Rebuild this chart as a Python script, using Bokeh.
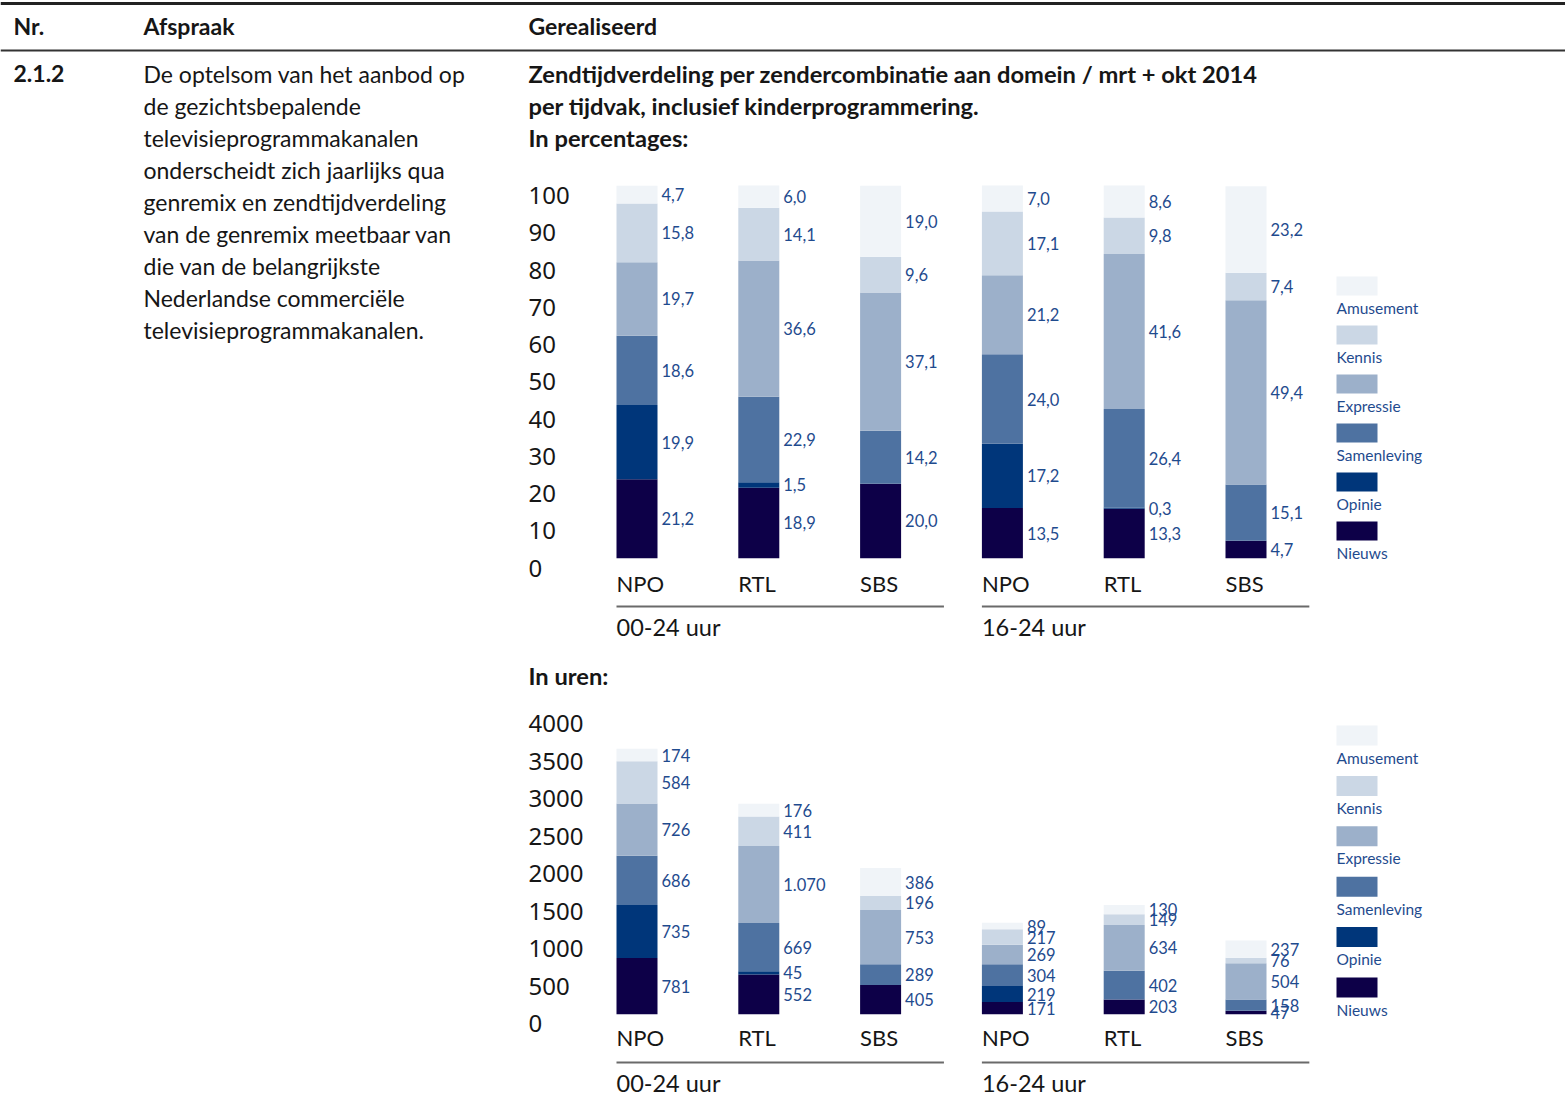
from bokeh.plotting import figure
from bokeh.models import Range1d, ColumnDataSource
from bokeh.core.properties import value
from bokeh.embed import file_html
from bokeh.resources import INLINE

# ---------------- data ----------------
periods = ["00-24 uur", "16-24 uur"]
channels = ["NPO", "RTL", "SBS"]
genres = ["Nieuws", "Opinie", "Samenleving", "Expressie", "Kennis", "Amusement"]  # bottom -> top

# percentages per bar: NPO, RTL, SBS (00-24) then NPO, RTL, SBS (16-24)
pct_nieuws = [21.2, 18.9, 20.0, 13.5, 13.3, 4.7]
pct_opinie = [19.9, 1.5, 0.0, 17.2, 0.3, 0.0]
pct_samenleving = [18.6, 22.9, 14.2, 24.0, 26.4, 15.1]
pct_expressie = [19.7, 36.6, 37.1, 21.2, 41.6, 49.4]
pct_kennis = [15.8, 14.1, 9.6, 17.1, 9.8, 7.4]
pct_amusement = [4.7, 6.0, 19.0, 7.0, 8.6, 23.2]

# hours per bar
hrs_nieuws = [781, 552, 405, 171, 203, 47]
hrs_opinie = [735, 45, 0, 219, 0, 0]
hrs_samenleving = [686, 669, 289, 304, 402, 158]
hrs_expressie = [726, 1070, 753, 269, 634, 504]
hrs_kennis = [584, 411, 196, 217, 149, 76]
hrs_amusement = [174, 176, 386, 89, 130, 237]

pct_ticks = [0, 10, 20, 30, 40, 50, 60, 70, 80, 90, 100]
hrs_ticks = [0, 500, 1000, 1500, 2000, 2500, 3000, 3500, 4000]

colors = ["#0d0048", "#00367a", "#4e72a1", "#9cb0ca", "#cbd7e5", "#f0f4f8"]

body_lines = [
    "De optelsom van het aanbod op",
    "de gezichtsbepalende",
    "televisieprogrammakanalen",
    "onderscheidt zich jaarlijks qua",
    "genremix en zendtijdverdeling",
    "van de genremix meetbaar van",
    "die van de belangrijkste",
    "Nederlandse commerciële",
    "televisieprogrammakanalen.",
]
title_lines = [
    "Zendtijdverdeling per zendercombinatie aan domein / mrt + okt 2014",
    "per tijdvak, inclusief kinderprogrammering.",
    "In percentages:",
]

pct_data = [pct_nieuws, pct_opinie, pct_samenleving, pct_expressie, pct_kennis, pct_amusement]
hrs_data = [hrs_nieuws, hrs_opinie, hrs_samenleving, hrs_expressie, hrs_kennis, hrs_amusement]

# ---------------- figure ----------------
W, H = 1565, 1096
FONT = value("Lato")
TICKFONT = value("Noto Sans")
INK = "#161616"
BLUE = "#1f4b8e"


def lin(va, pa, vb, pb, p_start, p_end):
    k = (vb - va) / (pb - pa)
    return Range1d(start=va + (p_start - pa) * k, end=va + (p_end - pa) * k)


p = figure(width=W, height=H, x_range=Range1d(0, W), y_range=Range1d(H, 0),
           output_backend="svg", toolbar_location=None, min_border=0,
           x_axis_location=None, y_axis_location=None)
p.grid.visible = False
p.outline_line_color = None
p.background_fill_color = "white"

p.extra_x_ranges = {"bars": lin(0, 636.5, 5, 1245.5, 0, W)}
p.extra_y_ranges = {
    "pct": lin(0, 557.7, 100, 185, H, 0),
    "hrs": lin(0, 1013.7, 4000, 725.7, H, 0),
    "hrs_tick": lin(0, 1023, 4000, 723, H, 0),
}
BW = 41 / 121.8

# ---------------- header ----------------
p.segment(x0=[0], y0=[3], x1=[W], y1=[3], line_width=3, line_color="#222222")
p.segment(x0=[0], y0=[50], x1=[W], y1=[50], line_width=2, line_color="#333333")
p.text(x=[13, 143, 528], y=[25, 25, 25], text=["Nr.", "Afspraak", "Gerealiseerd"],
       text_font=FONT, text_font_style="bold", text_font_size="23px",
       text_baseline="middle", text_color=INK)
p.text(x=[13], y=[73], text=["2.1.2"], text_font=FONT, text_font_style="bold",
       text_font_size="23px", text_baseline="middle", text_color=INK)
p.text(x=[143] * len(body_lines), y=[73 + 32 * i for i in range(len(body_lines))],
       text=body_lines, text_font=FONT, text_font_size="23px",
       text_baseline="middle", text_color=INK)
p.text(x=[528] * 3, y=[73, 105, 137], text=title_lines, text_font=FONT,
       text_font_style="bold", text_font_size="23.7px", text_baseline="middle", text_color=INK)
p.text(x=[528], y=[675], text=["In uren:"], text_font=FONT, text_font_style="bold",
       text_font_size="23.7px", text_baseline="middle", text_color=INK)

xs = list(range(len(periods) * len(channels)))
bar_channels = [channels[i % len(channels)] for i in xs]


def draw_chart(data, yname, fmt, chan_y, line_y, group_y):
    src = ColumnDataSource(dict(x=xs, **{g: d for g, d in zip(genres, data)}))
    p.vbar_stack(genres, x="x", width=BW, color=colors, line_color=None, source=src,
                 x_range_name="bars", y_range_name=yname)
    lx, ly, lt = [], [], []
    for i in xs:
        cum = 0
        for d in data:
            v = d[i]
            if v > 0:
                lx.append(i + BW / 2)
                ly.append(cum + v / 2)
                lt.append(fmt(v))
            cum += v
    p.text(x=lx, y=ly, text=lt, x_offset=4, text_font=FONT, text_font_size="16.5px",
           text_baseline="middle", text_color=BLUE, x_range_name="bars", y_range_name=yname)
    # channel labels
    p.text(x=[i - BW / 2 for i in xs], y=[chan_y] * len(xs), text=bar_channels,
           text_font=FONT, text_font_size="22px", text_baseline="middle",
           text_color=INK, x_range_name="bars")
    # group lines and labels
    n = len(channels)
    gx0 = [g * n - BW / 2 for g in range(len(periods))]
    gx1 = [g * n + (n - 1) + 0.52 for g in range(len(periods))]
    p.segment(x0=gx0, y0=[line_y] * len(periods), x1=gx1, y1=[line_y] * len(periods),
              line_width=2, line_color="#6a6a6a", x_range_name="bars")
    p.text(x=gx0, y=[group_y] * len(periods), text=periods, text_font=FONT,
           text_font_size="23.5px", text_baseline="middle", text_color=INK, x_range_name="bars")


def pct_fmt(v):
    return f"{v:.1f}".replace(".", ",")


def hrs_fmt(v):
    return f"{v:,}".replace(",", ".")


draw_chart(pct_data, "pct", pct_fmt, 583, 606, 626)
draw_chart(hrs_data, "hrs", hrs_fmt, 1037, 1062, 1082)

# y tick labels
p.text(x=[528] * len(pct_ticks), y=pct_ticks, text=[str(t) for t in pct_ticks], y_offset=10,
       text_font=TICKFONT, text_font_size="24px", text_baseline="middle", text_color=INK,
       y_range_name="pct")
p.text(x=[528] * len(hrs_ticks), y=hrs_ticks, text=[str(t) for t in hrs_ticks],
       text_font=TICKFONT, text_font_size="24px", text_baseline="middle", text_color=INK,
       y_range_name="hrs_tick")


# legends (top entry = Amusement)
def draw_legend(top, step, sw_h, lab_dy):
    names = genres[::-1]
    cols = colors[::-1]
    tops = [top + step * i for i in range(len(names))]
    p.quad(left=[1336] * len(names), right=[1377] * len(names), top=tops,
           bottom=[t + sw_h for t in tops], fill_color=cols, line_color=None)
    p.text(x=[1336] * len(names), y=[t + lab_dy for t in tops], text=names,
           text_font=FONT, text_font_size="15.5px", text_baseline="middle", text_color=BLUE)


draw_legend(276, 49.0, 19, 31)
draw_legend(725, 50.4, 20, 32)

open("out.html", "w").write(file_html(p, INLINE))
